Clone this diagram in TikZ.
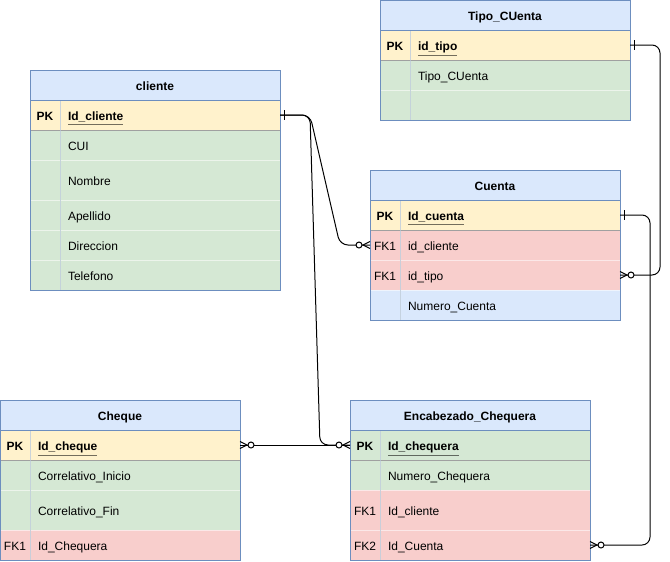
\documentclass[tikz,border=0pt]{standalone}
\usepackage{fontspec}
\setmainfont{Liberation Sans}
\usetikzlibrary{calc}

\definecolor{hdrfill}{HTML}{DAE8FC}
\definecolor{tblborder}{HTML}{6C8EBF}
\definecolor{pkfill}{HTML}{FFF2CC}
\definecolor{attrfill}{HTML}{D5E8D4}
\definecolor{fkfill}{HTML}{F8CECC}
\definecolor{pkrule}{HTML}{A0A0A0}
\definecolor{colrule}{HTML}{B4C4D4}

\tikzset{
  cellbase/.style={rectangle, anchor=north west, outer sep=0pt,
    draw=white, draw opacity=0.55, line width=0.75pt,
    text height=8.4pt, text depth=0.2pt,
    font=\fontsize{9}{11}\selectfont},
  hdrcell/.style={cellbase, draw=tblborder, draw opacity=1, fill=hdrfill,
    inner sep=0pt, minimum height=22.5pt, font=\fontsize{9}{11}\selectfont\bfseries},
  keycell/.style={cellbase, inner sep=0pt, minimum width=22.5pt},
  fieldcell/.style={cellbase, inner xsep=6pt, inner ysep=0pt, align=left},
  tblframe/.style={draw=tblborder, line width=0.75pt},
  pksep/.style={draw=pkrule, line width=0.75pt},
  colsep/.style={draw=colrule, line width=0.75pt, draw opacity=0.7},
  rel/.style={draw=black, line width=0.75pt, rounded corners=6pt},
  mandone/.pic={\draw[line width=0.75pt] (4,-5) -- (4,5);},
  zeromany/.pic={
    \draw[line width=0.75pt] (0,-3.5) -- (7,0) -- (0,3.5);
    \draw[line width=0.75pt, fill=white] (11,0) circle[radius=3];
  },
}

% one table row: name, x, y, table width, row height, fill, key text, field text
\newcommand\ertablerow[8]{%
  \node[keycell, fill=#6, minimum height={#5*0.75pt}] (#1-k) at (#2,#3) {#7};
  \node[fieldcell, fill=#6, minimum height={#5*0.75pt},
        text width={(#4-46)*0.75pt}] (#1-f) at (#2+30,#3) {#8};%
}

\begin{document}
\begin{tikzpicture}[x=0.75pt, y=-0.75pt]
\useasboundingbox (0,0) rectangle (670,561);

% ---------------- Tipo_CUenta ----------------
\node[hdrcell, minimum width=187.5pt] (tp-h) at (380,0) {Tipo\_CUenta};
\ertablerow{tp-pk}{380}{30}{250}{30}{pkfill}{\textbf{PK}}{\textbf{\underline{id\_tipo}}}
\ertablerow{tp-tc}{380}{60}{250}{30}{attrfill}{}{Tipo\_CUenta}
\ertablerow{tp-ex}{380}{90}{250}{30}{attrfill}{}{}
\draw[pksep] (tp-pk-k.south west) -- (tp-pk-f.south east);
\draw[colsep] (tp-pk-f.north west) -- (tp-ex-f.south west);
\draw[tblframe] (tp-h.north west) rectangle (tp-ex-f.south east);
\draw[tblframe] (tp-h.south west) -- (tp-h.south east);

% ---------------- cliente ----------------
\node[hdrcell, minimum width=187.5pt] (cl-h) at (30,70) {cliente};
\ertablerow{cl-pk}{30}{100}{250}{30}{pkfill}{\textbf{PK}}{\textbf{\underline{Id\_cliente}}}
\ertablerow{cl-cui}{30}{130}{250}{30}{attrfill}{}{CUI}
\ertablerow{cl-nom}{30}{160}{250}{40}{attrfill}{}{Nombre}
\ertablerow{cl-ape}{30}{200}{250}{30}{attrfill}{}{Apellido}
\ertablerow{cl-dir}{30}{230}{250}{30}{attrfill}{}{Direccion}
\ertablerow{cl-tel}{30}{260}{250}{30}{attrfill}{}{Telefono}
\draw[pksep] (cl-pk-k.south west) -- (cl-pk-f.south east);
\draw[colsep] (cl-pk-f.north west) -- (cl-tel-f.south west);
\draw[tblframe] (cl-h.north west) rectangle (cl-tel-f.south east);
\draw[tblframe] (cl-h.south west) -- (cl-h.south east);

% ---------------- Cuenta ----------------
\node[hdrcell, minimum width=187.5pt] (cu-h) at (370,170) {Cuenta};
\ertablerow{cu-pk}{370}{200}{250}{30}{pkfill}{\textbf{PK}}{\textbf{\underline{Id\_cuenta}}}
\ertablerow{cu-cl}{370}{230}{250}{30}{fkfill}{FK1}{id\_cliente}
\ertablerow{cu-tp}{370}{260}{250}{30}{fkfill}{FK1}{id\_tipo}
\ertablerow{cu-num}{370}{290}{250}{30}{hdrfill}{}{Numero\_Cuenta}
\draw[pksep] (cu-pk-k.south west) -- (cu-pk-f.south east);
\draw[colsep] (cu-pk-f.north west) -- (cu-num-f.south west);
\draw[tblframe] (cu-h.north west) rectangle (cu-num-f.south east);
\draw[tblframe] (cu-h.south west) -- (cu-h.south east);

% ---------------- Cheque ----------------
\node[hdrcell, minimum width=180pt] (ch-h) at (0,400) {Cheque};
\ertablerow{ch-pk}{0}{430}{240}{30}{pkfill}{\textbf{PK}}{\textbf{\underline{Id\_cheque}}}
\ertablerow{ch-ini}{0}{460}{240}{30}{attrfill}{}{Correlativo\_Inicio}
\ertablerow{ch-fin}{0}{490}{240}{40}{attrfill}{}{Correlativo\_Fin}
\ertablerow{ch-fk}{0}{530}{240}{30}{fkfill}{FK1}{Id\_Chequera}
\draw[pksep] (ch-pk-k.south west) -- (ch-pk-f.south east);
\draw[colsep] (ch-pk-f.north west) -- (ch-fk-f.south west);
\draw[tblframe] (ch-h.north west) rectangle (ch-fk-f.south east);
\draw[tblframe] (ch-h.south west) -- (ch-h.south east);

% ---------------- Encabezado_Chequera ----------------
\node[hdrcell, minimum width=180pt] (en-h) at (350,400) {Encabezado\_Chequera};
\ertablerow{en-pk}{350}{430}{240}{30}{attrfill}{\textbf{PK}}{\textbf{\underline{Id\_chequera}}}
\ertablerow{en-num}{350}{460}{240}{30}{attrfill}{}{Numero\_Chequera}
\ertablerow{en-cl}{350}{490}{240}{40}{fkfill}{FK1}{Id\_cliente}
\ertablerow{en-cu}{350}{530}{240}{30}{fkfill}{FK2}{Id\_Cuenta}
\draw[pksep] (en-pk-k.south west) -- (en-pk-f.south east);
\draw[colsep] (en-pk-f.north west) -- (en-cu-f.south west);
\draw[tblframe] (en-h.north west) rectangle (en-cu-f.south east);
\draw[tblframe] (en-h.south west) -- (en-h.south east);

% ---------------- relationships ----------------
% cliente -> Cuenta
\draw[rel] (cl-pk-f.east) -- ++(30,0) -- ($(cu-cl-k.west)+(-30,0)$) -- (cu-cl-k.west);
% cliente -> Encabezado_Chequera
\draw[rel] (cl-pk-f.east) -- ++(30,0) -- ($(en-pk-k.west)+(-30,0)$) -- (en-pk-k.west);
% Cheque -> Encabezado_Chequera
\draw[rel] (ch-pk-f.east) -- (en-pk-k.west);
% Tipo_CUenta -> Cuenta
\draw[rel] (tp-pk-f.east) -- ++(30,0) coordinate (tpturn)
  -- (tpturn |- cu-tp-f.east) -- (cu-tp-f.east);
% Cuenta -> Encabezado_Chequera
\draw[rel] (cu-pk-f.east) -- ++(30,0) coordinate (cuturn)
  -- (cuturn |- en-cu-f.east) -- (en-cu-f.east);

% end markers
\pic at (cl-pk-f.east) {mandone};
\pic at (tp-pk-f.east) {mandone};
\pic at (cu-pk-f.east) {mandone};
\pic[rotate=180] at (cu-cl-k.west) {zeromany};
\pic[rotate=180] at (en-pk-k.west) {zeromany};
\pic at (ch-pk-f.east) {zeromany};
\pic at (cu-tp-f.east) {zeromany};
\pic at (en-cu-f.east) {zeromany};
\end{tikzpicture}
\end{document}
